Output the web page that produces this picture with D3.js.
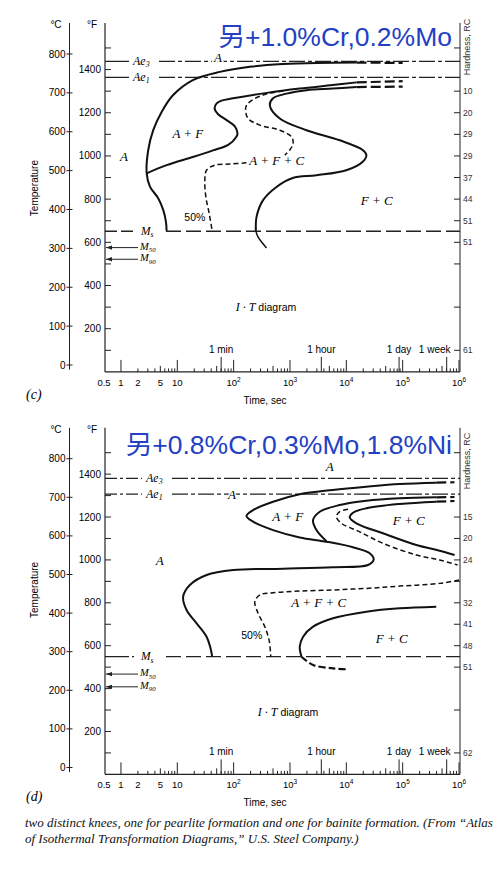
<!DOCTYPE html>
<html>
<head>
<meta charset="utf-8">
<title>I-T diagrams</title>
<script src="https://unpkg.com/d3@7/dist/d3.min.js"></script>
<style>
    body { margin: 0; background: #fff; }
    .sans { font-family: "Liberation Sans", Arial, sans-serif; }
    .serif { font-family: "Liberation Serif", "Times New Roman", serif; font-style: italic; }
    .halo { paint-order: stroke; stroke: #fff; stroke-width: 3px; stroke-linejoin: round; }
</style>
</head>
<body>
<svg width="500" height="872"></svg>
<script>
// ---- axes data ----
const celsiusTicks = [0, 100, 200, 300, 400, 500, 600, 700, 800];
const fahrenheitTicks = [100, 200, 300, 400, 500, 600, 700, 800, 900, 1000, 1100, 1200, 1300, 1400, 1500];
const fahrenheitLabels = [200, 400, 600, 800, 1000, 1200, 1400];
const timeTicks = [0.5, 1, 2, 5, 10, 100, 1000, 10000, 100000, 1000000];
const timeTickBase = ['0.5', '1', '2', '5', '10', '10', '10', '10', '10', '10'];
const timeTickExp = ['', '', '', '', '', '2', '3', '4', '5', '6'];
const timeMarks = [60, 3600, 86400, 604800];
const timeMarkLabels = ['1 min', '1 hour', '1 day', '1 week'];

// ---- panel (c): 1.0% Cr, 0.2% Mo ----
const hardnessFC = [1500, 1300, 1200, 1100, 1000, 900, 800, 700, 600, 500, 300, 100];
const hardnessLabelsC = ['', '10', '20', '29', '29', '37', '44', '51', '51', '', '', '61'];
const aeTempsC = [781, 740];          // Ae3, Ae1 (°C)
const msTempsC = [344, 302, 272];     // Ms, M50, M90 (°C)

// curves: [time sec, temperature °C]
const cFerriteStart = [[6.46, 345], [6.28, 369], [5.62, 399], [4.58, 429], [3.27, 459], [2.86, 493],
    [3.05, 553], [3.74, 604], [5.27, 651], [8.36, 694], [18.9, 733], [57, 754], [194, 767],
    [741, 774], [2990, 777], [15200, 778]];
const cFerriteStartExt = [[15200, 778], [100000, 777]];
const cPearliteStart = [[2.86, 493], [6.46, 514], [18.9, 535], [43, 552], [80, 566], [112, 587],
    [117, 596], [105, 614], [75, 630], [53, 645], [46, 660], [50, 673], [61, 680], [98, 686],
    [388, 700], [1490, 711], [5740, 720], [15300, 727]];
const cPearliteStartExt = [[15300, 727], [100000, 730]];
const cFiftyUpper = [[755, 705], [383, 697], [222, 683], [169, 668], [163, 654], [181, 634],
    [292, 617], [659, 604], [1064, 587], [1136, 570], [991, 553], [809, 540]];
const cFiftyLower = [[169, 520], [86, 517], [46, 514], [33, 501], [30.8, 476], [32.1, 433],
    [36.8, 390], [41.6, 345]];
const cFinish = [[15300, 715], [5740, 711], [1963, 707], [867, 698], [501, 686], [439, 668],
    [659, 634], [1963, 604], [7640, 578], [19540, 553], [22700, 540], [19540, 523], [10000, 501],
    [2950, 488], [1120, 481], [576, 458], [333, 424], [255, 381], [248, 345]];
const cFinishExt = [[15300, 715], [100000, 716]];
const cFinishTail = [[248, 345], [269, 330], [383, 301]];

// ---- panel (d): 0.8% Cr, 0.3% Mo, 1.8% Ni ----
const hardnessFD = [1500, 1200, 1100, 1000, 900, 800, 700, 600, 500, 300, 100];
const hardnessLabelsD = ['', '15', '20', '24', '', '32', '41', '48', '51', '', '62'];
const aeTempsD = [749, 708];
const msTempsD = [287, 242, 209];

const dFerriteStart = [[395000, 738], [88500, 734.5], [22700, 727.5], [5750, 719], [1490, 708],
    [501, 688.6], [222, 667], [169, 651.6], [222, 636.8], [501, 615], [1490, 596], [4440, 585],
    [13150, 570.5], [26000, 555], [30600, 539], [24300, 524.6], [5800, 518.7], [755, 515],
    [98, 511.7], [33.1, 498.7], [16.7, 472.8], [12.7, 442.5], [14.6, 408], [22, 373.6],
    [33.1, 338.9], [38.9, 308.8], [41.6, 287]];
const dFerriteStartExt = [[395000, 738], [832000, 739]];
const dPearliteStart = [[395000, 700], [88500, 697.4], [22700, 691], [7640, 680], [3375, 662.7],
    [2570, 641], [2950, 615], [4440, 586]];
const dPearliteStartExt = [[395000, 700], [832000, 700.8]];
const dPearliteFinish = [[395000, 688.6], [88500, 682.6], [22700, 671.5], [13150, 660], [11500, 648],
    [15100, 632.6], [44700, 606.7], [175000, 576.4], [453000, 561.7], [835000, 550.5]];
const dPearliteFinishExt = [[395000, 688.6], [832000, 690.4]];
const dFiftyUpper = [[10700, 669], [7640, 662.7], [6670, 649.7], [8180, 632.6], [17300, 610.6],
    [44700, 580.8], [175000, 550.5], [453000, 537.6], [944000, 524.6]];
const dFiftyLower = [[1000000, 485.8], [453000, 477], [88500, 470], [22700, 464], [5800, 460],
    [1490, 457], [501, 452.8], [292, 447], [238, 429.5], [272, 399.5], [357, 364.8], [426, 330],
    [456, 287]];
const dBainiteFinish = [[395000, 416.6], [88500, 412.4], [22700, 403.6], [5800, 386.5], [2570, 364.8],
    [1710, 338.9], [1490, 313], [1600, 287]];
const dBainiteTail = [[1600, 287], [2570, 265.5], [5800, 257], [10000, 254.4]];

const svg = d3.select('svg');
const fToC = f => (f - 32) * 5 / 9;

function subText(g, px, py, base, sub, size) {
    const t = g.append('text').attr('class', 'serif halo').attr('x', px).attr('y', py)
        .attr('font-size', size).attr('dy', '0.3em');
    t.append('tspan').text(base);
    t.append('tspan').attr('font-size', size * 0.65).attr('dy', 2.5).text(sub);
    return t;
}

function drawPanel(p) {
    const g = svg.append('g');
    const x = d3.scaleLog().domain([0.5, 1e6]).range([104, 459]);
    const y = d3.scaleLinear().domain([0, 800]).range(p.yRange);
    const xC = 69.5, xF = 105, xR = 460;
    const yTop = y(880), yBot = y(fToC(0));
    const line = d3.line().x(d => x(d[0])).y(d => y(d[1])).curve(d3.curveCatmullRom.alpha(0.5));

    // axis lines
    g.append('line').attr('x1', xC).attr('x2', xC).attr('y1', yTop).attr('y2', y(-12)).attr('stroke', '#222');
    g.append('line').attr('x1', xF).attr('x2', xF).attr('y1', yTop).attr('y2', yBot).attr('stroke', '#222').attr('stroke-width', 1.2);
    g.append('line').attr('x1', xR).attr('x2', xR).attr('y1', yTop).attr('y2', yBot).attr('stroke', '#222');
    g.append('line').attr('x1', xF).attr('x2', xR).attr('y1', yBot).attr('y2', yBot).attr('stroke', '#222').attr('stroke-width', 1.2);

    // celsius
    g.selectAll('.ct').data(celsiusTicks).enter().append('line')
        .attr('x1', xC - 3).attr('x2', xC + 3).attr('y1', d => y(d)).attr('y2', d => y(d)).attr('stroke', '#222');
    g.selectAll('.cl').data(celsiusTicks).enter().append('text').attr('class', 'sans')
        .attr('x', xC - 4).attr('y', d => y(d)).attr('dy', '0.35em').attr('text-anchor', 'end')
        .attr('font-size', 10).text(d => d);
    g.append('text').attr('class', 'sans').attr('x', 56).attr('y', yTop + 5).attr('font-size', 10)
        .attr('text-anchor', 'middle').text('°C');
    g.append('text').attr('class', 'sans').attr('x', 92).attr('y', yTop + 5).attr('font-size', 10)
        .attr('text-anchor', 'middle').text('°F');

    // fahrenheit
    g.selectAll('.ft').data(fahrenheitTicks).enter().append('line')
        .attr('x1', xF).attr('x2', xF + 6).attr('y1', d => y(fToC(d))).attr('y2', d => y(fToC(d))).attr('stroke', '#222');
    g.selectAll('.fl').data(fahrenheitLabels).enter().append('text').attr('class', 'sans')
        .attr('x', xF - 4).attr('y', d => y(fToC(d))).attr('dy', '0.35em').attr('text-anchor', 'end')
        .attr('font-size', 10).text(d => d);

    // hardness
    g.selectAll('.ht').data(p.hardnessF).enter().append('line')
        .attr('x1', xR - 6).attr('x2', xR).attr('y1', d => y(fToC(d))).attr('y2', d => y(fToC(d))).attr('stroke', '#222');
    g.selectAll('.hl').data(p.hardnessF).enter().append('text').attr('class', 'sans')
        .attr('x', xR + 3).attr('y', d => y(fToC(d))).attr('dy', '0.35em')
        .attr('font-size', 8.5).attr('fill', '#333').text((d, i) => p.hardnessLabels[i]);
    g.append('text').attr('class', 'sans').attr('font-size', 9).attr('fill', '#333')
        .attr('text-anchor', 'middle')
        .attr('transform', `translate(${xR + 10},${y(p.hardLabelT)}) rotate(-90)`).text('Hardness, RC');

    // temperature label
    g.append('text').attr('class', 'sans').attr('font-size', 10).attr('text-anchor', 'middle')
        .attr('transform', `translate(38,${y(p.tempLabelT)}) rotate(-90)`).text('Temperature');

    // time axis
    const minor = x.ticks().filter(v => v >= 1);
    g.selectAll('.xt').data(minor).enter().append('line')
        .attr('x1', d => x(d)).attr('x2', d => x(d)).attr('y1', yBot)
        .attr('y2', d => {
            const m = Math.round(d / Math.pow(10, Math.floor(Math.log10(d) + 1e-9)));
            return yBot - (m === 1 ? 12 : m === 5 ? 6 : 3.5);
        }).attr('stroke', '#222');
    g.selectAll('.xm').data(timeMarks).enter().append('line')
        .attr('x1', d => x(d)).attr('x2', d => x(d)).attr('y1', yBot).attr('y2', yBot - 15)
        .attr('stroke', '#222');
    const tl = g.selectAll('.xl').data(timeTicks).enter().append('text').attr('class', 'sans')
        .attr('x', d => x(d)).attr('y', yBot + 14).attr('text-anchor', 'middle').attr('font-size', 9.5);
    tl.append('tspan').text((d, i) => timeTickBase[i]);
    tl.append('tspan').attr('font-size', 6.5).attr('dy', -4).text((d, i) => timeTickExp[i]);
    g.selectAll('.xml').data(timeMarks).enter().append('text').attr('class', 'sans')
        .attr('x', (d, i) => x(d) - (i === 3 ? 12 : 0)).attr('y', yBot - 19)
        .attr('text-anchor', 'middle').attr('font-size', 10).text((d, i) => timeMarkLabels[i]);
    g.append('text').attr('class', 'sans').attr('x', 265).attr('y', yBot + 32)
        .attr('text-anchor', 'middle').attr('font-size', 10).text('Time, sec');

    // Ae lines
    const aeNames = ['3', '1'];
    p.ae.forEach((t, i) => {
        const yy = y(t);
        g.append('line').attr('x1', xF).attr('x2', p.aeLabelX - 4).attr('y1', yy).attr('y2', yy)
            .attr('stroke', '#222').attr('stroke-width', 1.3).attr('stroke-dasharray', p.aeLead);
        g.append('line').attr('x1', p.aeLabelX + 26).attr('x2', xR).attr('y1', yy).attr('y2', yy)
            .attr('stroke', '#222').attr('stroke-width', 1.3).attr('stroke-dasharray', '16,3,4,3');
        subText(g, p.aeLabelX, yy, 'Ae', aeNames[i], 12);
    });

    // Ms, M50, M90
    const yMs = y(p.ms[0]);
    g.append('line').attr('x1', xF).attr('x2', 134).attr('y1', yMs).attr('y2', yMs)
        .attr('stroke', '#222').attr('stroke-width', 1.3).attr('stroke-dasharray', p.msLead);
    g.append('line').attr('x1', 166).attr('x2', xR).attr('y1', yMs).attr('y2', yMs)
        .attr('stroke', '#222').attr('stroke-width', 1.3).attr('stroke-dasharray', '15,5');
    subText(g, 141, yMs, 'M', 's', 11.5);
    ['50', '90'].forEach((s, i) => {
        const yy = y(p.ms[i + 1]);
        g.append('line').attr('x1', xF + 1).attr('x2', 138).attr('y1', yy).attr('y2', yy)
            .attr('stroke', '#222').attr('stroke-width', 1);
        g.append('path').attr('d', d3.line()([[xF + 1, yy], [xF + 7, yy - 2.2], [xF + 7, yy + 2.2]]))
            .attr('fill', '#222');
        subText(g, 140, yy - 1, 'M', s, 10.5);
    });

    // curves
    const solid = (data, w) => g.append('path').attr('d', line(data)).attr('fill', 'none')
        .attr('stroke', '#111').attr('stroke-width', w || 2);
    const dashed = (data, w, da) => g.append('path').attr('d', line(data)).attr('fill', 'none')
        .attr('stroke', '#111').attr('stroke-width', w || 1.5).attr('stroke-dasharray', da || '5,3');
    p.solids.forEach(d => solid(d));
    p.thin.forEach(d => solid(d, 1.5));
    p.exts.forEach(d => dashed(d, 2.2, '10,4'));
    p.fifty.forEach(d => dashed(d));
    p.tails.forEach(d => dashed(d, 2.2, '7,3'));

    // region labels
    p.regions.forEach(r => {
        g.append('text').attr('class', 'serif halo').attr('x', x(r[0])).attr('y', y(r[1]))
            .attr('dy', '0.35em').attr('text-anchor', 'middle').attr('font-size', 13).text(r[2]);
    });
    g.append('text').attr('class', 'sans').attr('x', x(p.fiftyAt[0])).attr('y', y(p.fiftyAt[1]))
        .attr('dy', '0.35em').attr('text-anchor', 'middle').attr('font-size', 10.5).text('50%');
    const it = g.append('text').attr('x', x(p.itAt[0])).attr('y', y(p.itAt[1])).attr('dy', '0.35em');
    it.append('tspan').attr('class', 'serif').attr('font-size', 12).text('I · T');
    it.append('tspan').attr('class', 'sans').attr('font-size', 10.5).text(' diagram');

    // panel letter and title
    g.append('text').attr('class', 'serif').attr('x', 26).attr('y', yBot + 27)
        .attr('font-size', 14).text(p.letter);
    g.append('text').attr('x', 452).attr('y', p.titleY).attr('text-anchor', 'end')
        .attr('font-family', '"Liberation Sans", Arial, "Noto Sans CJK SC", sans-serif')
        .attr('font-size', 26.5).attr('fill', '#2340c4').text(p.title);
}

drawPanel({
    yRange: [365, 54], hardnessF: hardnessFC, hardnessLabels: hardnessLabelsC,
    hardLabelT: 818, tempLabelT: 455, ae: aeTempsC, ms: msTempsC, aeLabelX: 133,
    aeLead: '20,0', msLead: '12,4',
    solids: [cFerriteStart, cPearliteStart, cFinish], thin: [cFinishTail],
    exts: [cFerriteStartExt, cPearliteStartExt, cFinishExt], fifty: [cFiftyUpper, cFiftyLower], tails: [],
    regions: [[1.13, 537, 'A'], [52.5, 792, 'A'], [15.4, 596, 'A + F'], [583, 527, 'A + F + C'], [34700, 424, 'F + C']],
    fiftyAt: [20.5, 380], itAt: [109, 154], letter: '(c)', titleY: 46, title: '另+1.0%Cr,0.2%Mo'
});

drawPanel({
    yRange: [767.5, 458.7], hardnessF: hardnessFD, hardnessLabels: hardnessLabelsD,
    hardLabelT: 794, tempLabelT: 460, ae: aeTempsD, ms: msTempsD, aeLabelX: 146,
    aeLead: '12,3,3,3', msLead: '24,3,2,3',
    solids: [dFerriteStart, dPearliteStart, dPearliteFinish, dBainiteFinish], thin: [],
    exts: [dFerriteStartExt, dPearliteStartExt, dPearliteFinishExt], fifty: [dFiftyUpper, dFiftyLower],
    tails: [dBainiteTail],
    regions: [[4.9, 537.6, 'A'], [5080, 779, 'A'], [93, 708, 'A'], [914, 650, 'A + F'], [128000, 641, 'F + C'],
        [3240, 427, 'A + F + C'], [63800, 335.5, 'F + C']],
    fiftyAt: [210, 343], itAt: [269, 149], letter: '(d)', titleY: 454, title: '另+0.8%Cr,0.3%Mo,1.8%Ni'
});

// caption
const caption = svg.append('text').attr('class', 'serif').attr('font-size', 13).attr('fill', '#111');
caption.append('tspan').attr('x', 25).attr('y', 827)
    .text('two distinct knees, one for pearlite formation and one for bainite formation. (From \u201cAtlas');
caption.append('tspan').attr('x', 25).attr('y', 843)
    .text('of Isothermal Transformation Diagrams,\u201d U.S. Steel Company.)');
</script>
</body>
</html>
